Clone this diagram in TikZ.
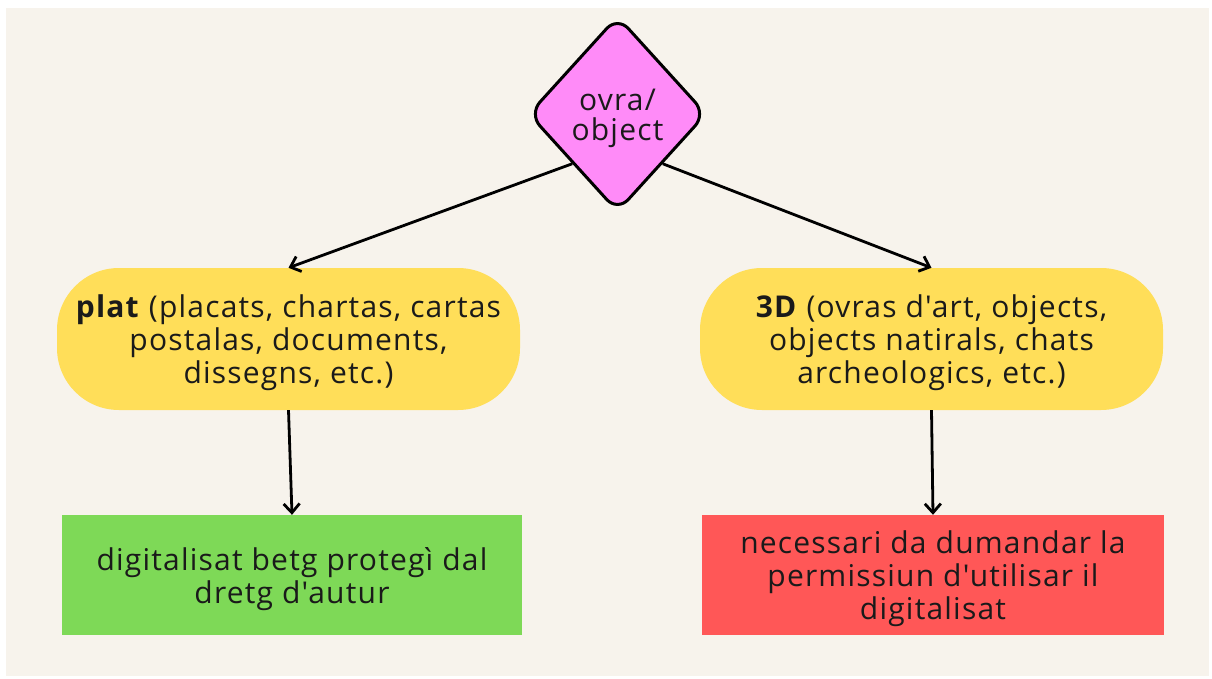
\documentclass[tikz,border=0pt]{standalone}
\usepackage{fontspec}
\setmainfont[LetterSpace=4,Ligatures=TeXOff]{Open Sans}
\usetikzlibrary{shapes.geometric,arrows.meta}
\definecolor{bg}{HTML}{F7F3EC}
\definecolor{pinkd}{HTML}{FF8BF8}
\definecolor{yel}{HTML}{FFDE59}
\definecolor{grn}{HTML}{7ED957}
\definecolor{rd}{HTML}{FF5757}
\definecolor{txt}{HTML}{1A1A1A}
\tikzset{
  every node/.style={text=txt, font=\fontsize{30}{33}\selectfont},
  txt/.style={label={[yshift=-4pt,align=center,inner sep=0pt]center:{#1}}},
  pill/.style={fill=yel, rounded corners=62pt, minimum width=463pt, minimum height=142pt, inner sep=0pt},
  boxg/.style={fill=grn, minimum width=460pt, minimum height=120pt, inner sep=0pt},
  boxr/.style={fill=rd, minimum width=462pt, minimum height=120pt, inner sep=0pt},
  dia/.style={diamond, draw=black, line width=3pt, fill=pinkd, rounded corners=16pt, minimum width=178pt, minimum height=196pt, inner sep=0pt},
  conn/.style={draw=black, line width=2.8pt, -{Straight Barb[length=9pt,width=16pt,line width=2.8pt]}}
}
\begin{document}
\begin{tikzpicture}[x=1pt,y=-1pt]
\fill[white] (0,0) rectangle (1212,679);
\fill[bg] (6,8) rectangle (1209,676);
\useasboundingbox (0,0) rectangle (1212,679);
\node[dia, txt={ovra/\\[-3pt]object}] (obj) at (617.5,114) {};
\node[pill, txt={\textbf{plat} (placats, chartas, cartas\\postalas, documents,\\dissegns, etc.)}] (plat) at (288.5,339) {};
\node[pill, txt={\textbf{3D} (ovras d'art, objects,\\objects natirals, chats\\archeologics, etc.)}] (tri) at (931.5,339) {};
\node[boxg, txt={digitalisat betg protegì dal\\dretg d'autur}] (dig) at (292,575) {};
\node[boxr, txt={necessari da dumandar la\\permissiun d'utilisar il\\digitalisat}] (nec) at (933,575) {};
\draw[conn] (obj.south west) -- (plat.north);
\draw[conn] (obj.south east) -- (tri.north);
\draw[conn] (plat.south) -- (dig.north);
\draw[conn] (tri.south) -- (nec.north);
\end{tikzpicture}
\end{document}
